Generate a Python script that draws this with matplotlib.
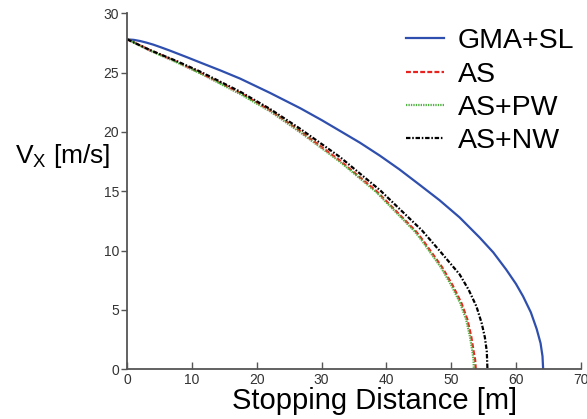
import matplotlib
matplotlib.use("Agg")
import matplotlib.pyplot as plt

plt.rcParams['font.family'] = ['Liberation Sans', 'DejaVu Sans']
plt.rcParams['mathtext.fontset'] = 'custom'
plt.rcParams['mathtext.rm'] = 'Liberation Sans'
plt.rcParams['mathtext.it'] = 'Liberation Sans:italic'

# Stopping distance [m] vs longitudinal speed [m/s] for each control strategy
gma_sl_x = [0, 1, 2, 3, 4, 5.2, 6.5, 9.2, 11.5, 14.3, 17.4, 22, 26.7, 30, 32.8,
            35.9, 39, 42, 45, 48.2, 51.3, 54.4, 56.5, 58.5, 60, 61.1, 62.3,
            63.2, 63.8, 64.1, 64.2]
gma_sl_v = [27.8, 27.76, 27.66, 27.52, 27.36, 27.13, 26.87, 26.3, 25.8, 25.2,
            24.5, 23.3, 22.0, 21.0, 20.1, 19.1, 18.0, 16.85, 15.6, 14.25, 12.8,
            11.1, 9.85, 8.4, 7.2, 6.15, 4.8, 3.4, 2.2, 1.1, 0.0]

as_x = [0, 3.5, 7.5, 11.2, 17.4, 22, 26.6, 32.8, 38.5, 44.6, 45.6, 48.6, 50.2,
        51.6, 52.5, 53.1, 53.5, 53.7, 53.8]
as_v = [27.8, 26.9, 25.95, 25.0, 23.3, 21.85, 20.1, 17.6, 15.0, 11.6, 10.9, 8.6,
        7.1, 5.56, 4.2, 2.75, 1.4, 0.8, 0.0]

as_pw_x = [0, 3.5, 7.5, 11.2, 17.4, 22, 26.6, 32.8, 38.4, 44.4, 45.4, 48.4,
           50.0, 51.4, 52.3, 52.9, 53.3, 53.45, 53.5]
as_pw_v = [27.8, 26.85, 25.9, 24.95, 23.2, 21.75, 20.0, 17.5, 14.95, 11.6, 10.9,
           8.6, 7.1, 5.56, 4.2, 2.75, 1.4, 0.8, 0.0]

as_nw_x = [0, 3.5, 7.5, 11.2, 17.4, 22, 26.6, 32.8, 39.0, 45.5, 48.2, 51.3,
           52.7, 53.9, 54.7, 55.2, 55.5, 55.6]
as_nw_v = [27.8, 26.9, 26.0, 25.1, 23.4, 21.95, 20.3, 17.9, 15.1, 11.7, 10.0,
           8.0, 6.7, 5.3, 3.9, 2.7, 1.5, 0.0]

x_ticks = [0, 10, 20, 30, 40, 50, 60, 70]
y_ticks = [0, 5, 10, 15, 20, 25, 30]

fig = plt.figure(figsize=(5.87, 4.19), dpi=100)
ax = fig.add_axes([0.2169, 0.1186, 0.7724, 0.8497])

ax.plot(gma_sl_x, gma_sl_v, color='#2f4fae', lw=1.6, label='GMA+SL')
ax.plot(as_x, as_v, color='#e8231f', lw=1.6, dashes=(2.2, 1.0), label='AS')
ax.plot(as_pw_x, as_pw_v, color='#52b043', lw=1.6, dashes=(0.6, 0.5), label='AS+PW')
ax.plot(as_nw_x, as_nw_v, color='black', lw=1.6, dashes=(2.0, 0.8, 0.7, 0.8),
        label='AS+NW')

ax.set_xlim(0, 70)
ax.set_ylim(0, 30)
ax.set_xticks(x_ticks)
ax.set_yticks(y_ticks)

for side in ('top', 'right'):
    ax.spines[side].set_visible(False)
for side in ('left', 'bottom'):
    ax.spines[side].set_color('#555555')
    ax.spines[side].set_linewidth(1.3)

ax.tick_params(axis='x', direction='in', length=5, width=1, color='#555555',
               labelsize=10, labelcolor='#333333', pad=3)
ax.tick_params(axis='y', direction='out', length=4, width=1, color='#555555',
               labelsize=10, labelcolor='#333333', pad=2)

ax.set_xlabel('Stopping Distance [m]', fontsize=21)
ax.xaxis.set_label_coords(0.546, -0.088)
ax.xaxis.label.set_va('center')

ax.set_ylabel(r'V$_{\mathrm{X}}$ [m/s]', fontsize=19, rotation=0)
ax.yaxis.set_label_coords(-0.143, 0.600)
ax.yaxis.label.set_va('center')
ax.yaxis.label.set_ha('center')

leg = ax.legend(loc='upper right', bbox_to_anchor=(1.011, 0.99), frameon=False,
                fontsize=20.5, handlelength=1.33, handletextpad=0.49,
                labelspacing=0.26, borderaxespad=0.0)

fig.savefig('out.png', dpi=100, facecolor='white')
